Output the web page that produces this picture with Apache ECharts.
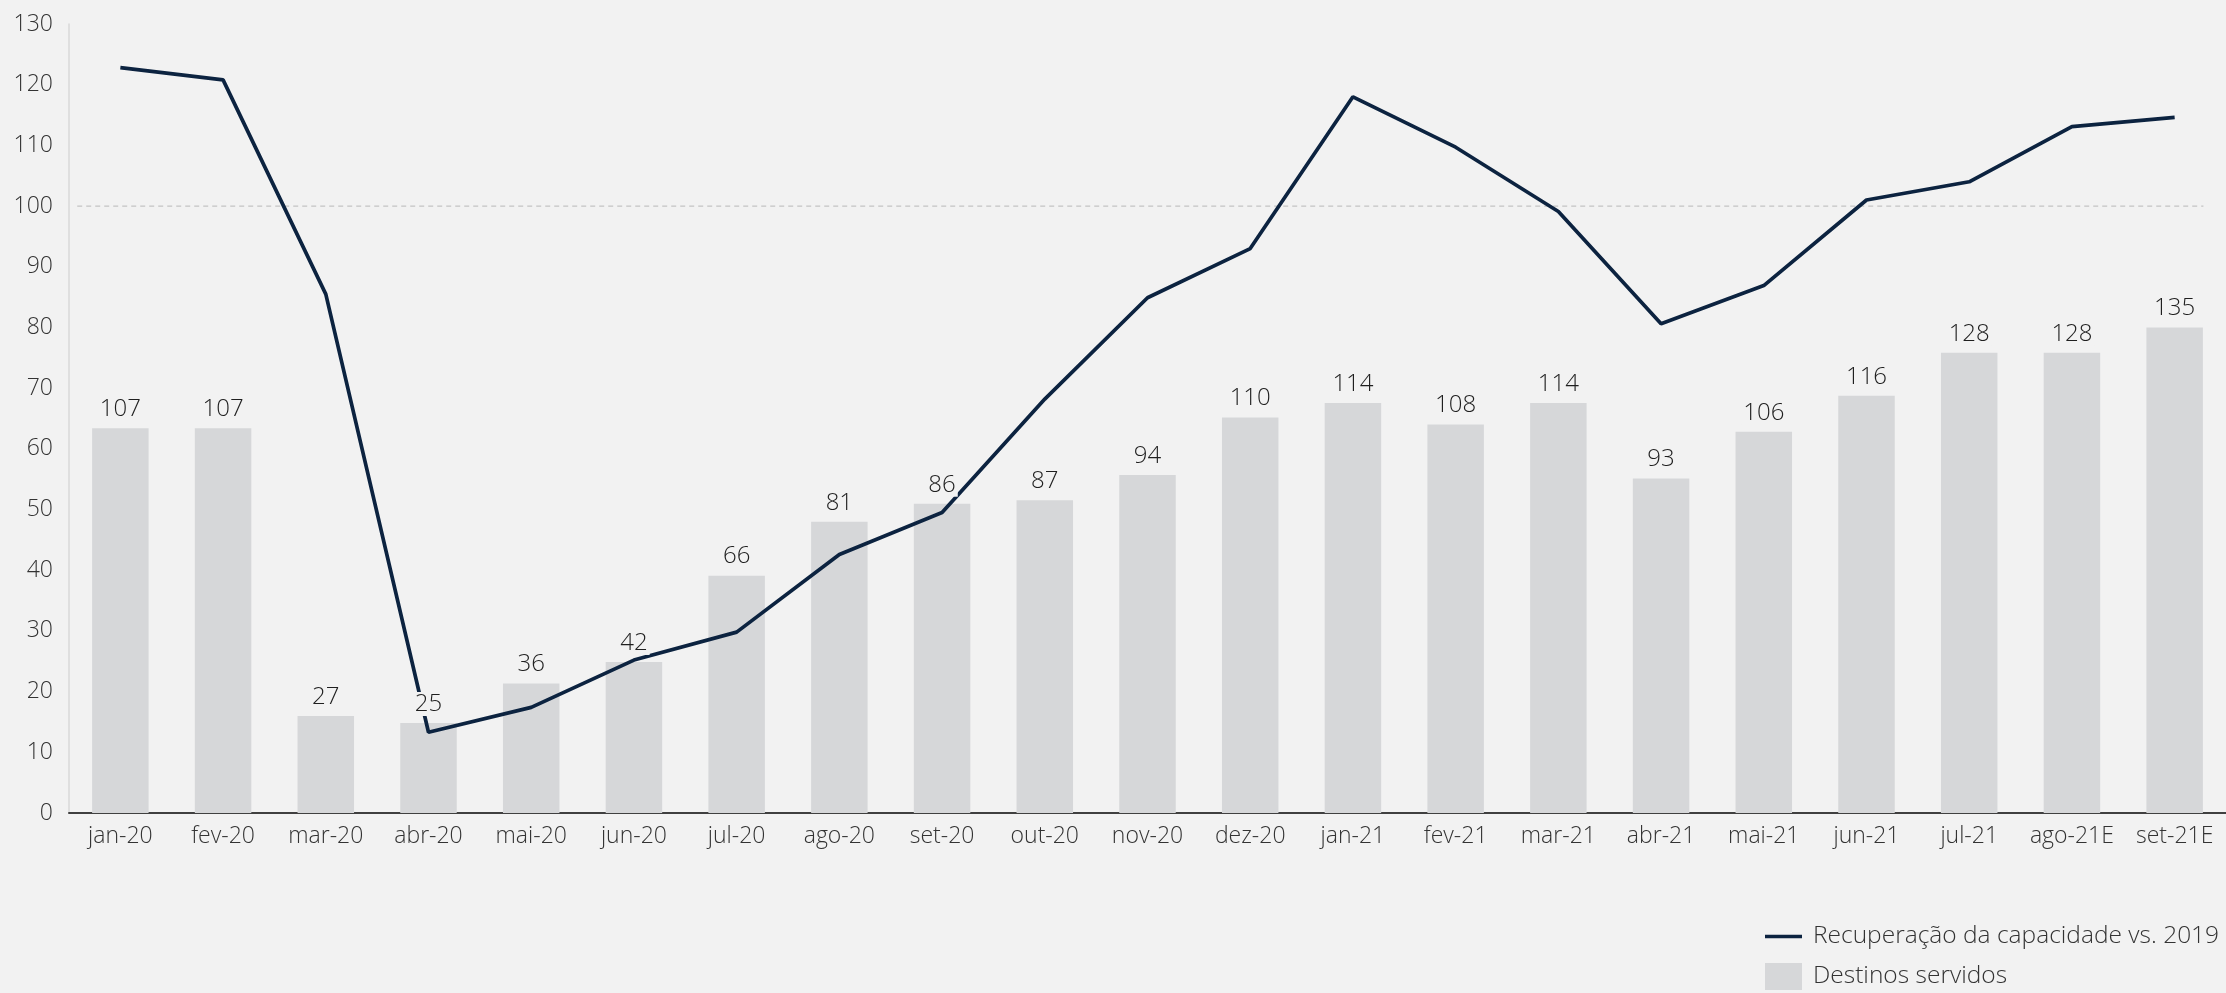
<!DOCTYPE html>
<html>
<head>
<meta charset="utf-8">
<script src="https://cdn.jsdelivr.net/npm/echarts@6/dist/echarts.min.js"></script>
<style>
  html, body { margin: 0; padding: 0; background: #f2f2f2; }
  #chart { width: 2226px; height: 993px; }
</style>
</head>
<body>
<div id="chart"></div>
<script>
const months = ['jan-20', 'fev-20', 'mar-20', 'abr-20', 'mai-20', 'jun-20', 'jul-20', 'ago-20', 'set-20', 'out-20', 'nov-20', 'dez-20',
  'jan-21', 'fev-21', 'mar-21', 'abr-21', 'mai-21', 'jun-21', 'jul-21', 'ago-21E', 'set-21E'];
const destinos = [107, 107, 27, 25, 36, 42, 66, 81, 86, 87, 94, 110, 114, 108, 114, 93, 106, 116, 128, 128, 135];
const recuperacao = [122.8, 120.8, 85.5, 13.3, 17.4, 25.2, 29.8, 42.6, 49.5, 68.2, 84.9, 93.0,
  118.0, 109.7, 99.1, 80.6, 86.9, 101.0, 104.0, 113.1, 114.6];
const yTicks = [0, 130, 10]; // min, max, interval
// linha tracejada de referência em 100 (x em unidades de categoria)
const refLine = [[0.08, 100], [20.78, 100]];

const font = 'Open Sans';
const txt = '#333333';

let chart = echarts.init(document.getElementById('chart'));
let option = {
  backgroundColor: '#f2f2f2',
  animation: false,
  textStyle: { fontFamily: font, fontWeight: 300 },
  grid: { left: 69, width: 2158, top: 24, bottom: 180 },
  legend: {
    orient: 'vertical',
    left: 1765,
    top: 924,
    padding: 0,
    itemWidth: 37,
    itemHeight: 27,
    itemGap: 14,
    symbolKeepAspect: true,
    data: [
      { name: 'Recuperação da capacidade vs. 2019', icon: 'path://M0,0L37,0L37,3.6L0,3.6Z' },
      { name: 'Destinos servidos', icon: 'rect' }
    ],
    textStyle: { fontFamily: font, fontWeight: 300, fontSize: 24.5, color: txt, padding: [0, 0, 0, 6] }
  },
  xAxis: [
    {
      type: 'category',
      data: months,
      axisLine: { lineStyle: { color: '#404040', width: 2 } },
      axisTick: { show: false },
      axisLabel: { color: txt, fontSize: 23, fontFamily: font, fontWeight: 300, margin: 12, interval: 0 }
    },
    {
      // eixo auxiliar oculto para a linha de referência
      type: 'value',
      min: 0,
      max: months.length,
      show: false
    }
  ],
  yAxis: [
    {
      type: 'value',
      min: yTicks[0],
      max: yTicks[1],
      interval: yTicks[2],
      axisLine: { show: true, lineStyle: { color: '#d9d9d9', width: 1.5 } },
      axisTick: { show: false },
      splitLine: { show: false },
      axisLabel: { color: txt, fontSize: 23, fontFamily: font, fontWeight: 300, margin: 16 }
    },
    {
      // eixo secundário oculto para as barras
      type: 'value',
      min: 0,
      max: 219.4,
      show: false,
      splitLine: { show: false }
    }
  ],
  series: [
    {
      name: 'Destinos servidos',
      type: 'bar',
      yAxisIndex: 1,
      data: destinos,
      barWidth: '55%',
      itemStyle: { color: '#d6d7d9' },
      z: 1,
      silent: true
    },
    {
      name: 'ref100',
      type: 'line',
      xAxisIndex: 1,
      data: refLine,
      symbol: 'none',
      lineStyle: { color: '#c4c4c4', type: [5, 4], width: 1.2 },
      z: 1,
      silent: true
    },
    {
      name: 'Recuperação da capacidade vs. 2019',
      type: 'line',
      data: recuperacao,
      symbol: 'none',
      lineStyle: { color: '#0c2340', width: 3.7 },
      itemStyle: { color: '#0c2340' },
      z: 2,
      silent: true
    },
    {
      // rótulos das barras por cima da linha
      name: 'labels',
      type: 'bar',
      yAxisIndex: 1,
      data: destinos,
      barWidth: '55%',
      barGap: '-100%',
      itemStyle: { color: 'rgba(0,0,0,0)' },
      z: 5,
      silent: true,
      label: {
        show: true,
        position: 'top',
        distance: 7,
        color: '#1f1f1f',
        fontSize: 24,
        fontFamily: font,
        fontWeight: 300,
        backgroundColor: '#f2f2f2',
        padding: [0, 2]
      }
    }
  ]
};
chart.setOption(option);
window.addEventListener('resize', () => {
  chart.resize();
});
</script>
</body>
</html>
